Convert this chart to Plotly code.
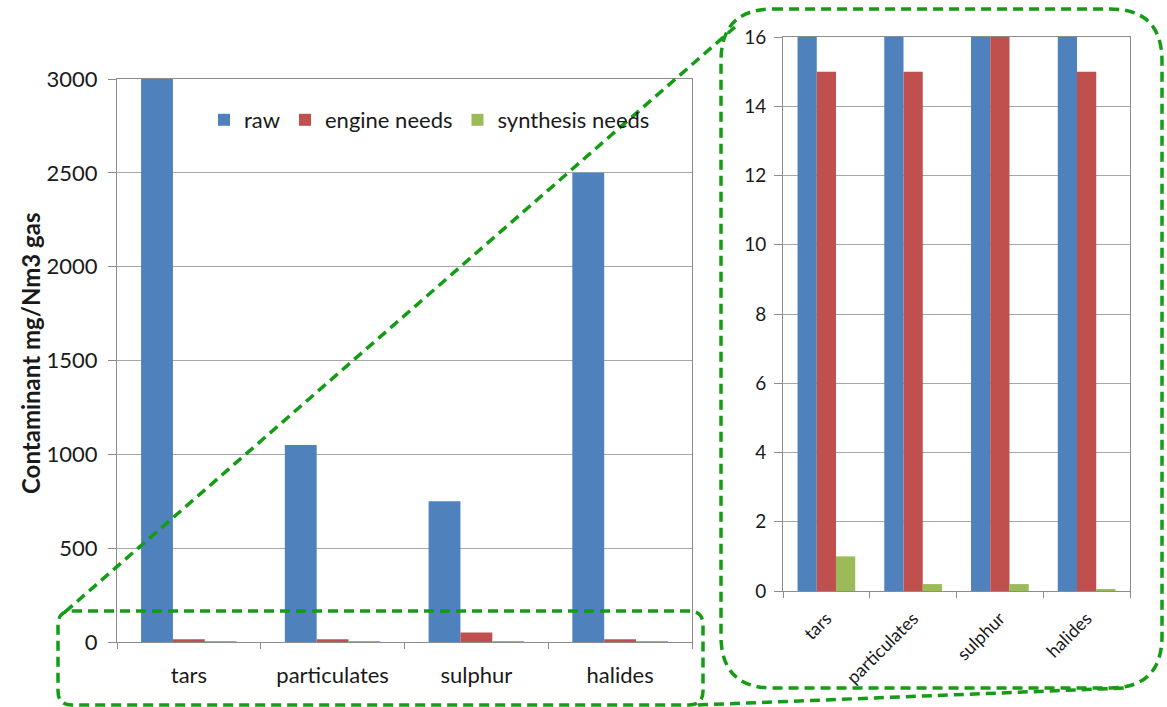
import plotly.graph_objects as go

categories = ["tars", "particulates", "sulphur", "halides"]
raw = [3000, 1050, 750, 2500]
engine_needs = [15, 15, 50, 15]
synthesis_needs = [1, 0.2, 0.2, 0.05]

series_names = ["raw", "engine needs", "synthesis needs"]
series_values = [raw, engine_needs, synthesis_needs]
series_colors = ["#4F81BD", "#C0504D", "#9BBB59"]

W, H = 1167, 707
FONT = "Lato"
GRID = "#a6a6a6"
AXIS = "#8c8c8c"
GREEN = "#149c14"

def px(x):
    return x / W

def py(y):
    return 1 - y / H

fig = go.Figure()
for name, vals, col in zip(series_names, series_values, series_colors):
    fig.add_trace(go.Bar(x=categories, y=vals, name=name, marker=dict(color=col, line=dict(width=0)),
                         xaxis="x", yaxis="y", showlegend=True))
for name, vals, col in zip(series_names, series_values, series_colors):
    fig.add_trace(go.Bar(x=categories, y=vals, name=name, marker=dict(color=col, line=dict(width=0)),
                         xaxis="x2", yaxis="y2", showlegend=False))

axis_common = dict(showline=True, linecolor=AXIS, linewidth=1, mirror=True, automargin=False,
                   zeroline=False)

fig.update_layout(
    width=W, height=H,
    margin=dict(l=0, r=0, t=0, b=0),
    paper_bgcolor="white", plot_bgcolor="white",
    barmode="group", bargap=0.335, bargroupgap=0,
    font=dict(family=FONT, color="#1a1a1a"),
    xaxis=dict(domain=[px(117), px(692)], anchor="y", ticks="outside", tickson="boundaries",
               ticklen=6, tickcolor=AXIS, tickfont=dict(size=22), ticklabelstandoff=14,
               showgrid=False, **axis_common),
    yaxis=dict(domain=[py(642), py(79)], anchor="x", range=[0, 3000], dtick=500,
               ticks="outside", ticklen=8, tickcolor=AXIS, tickfont=dict(size=22),
               ticklabelstandoff=6,
               showgrid=True, gridcolor=GRID, gridwidth=1, **axis_common),
    xaxis2=dict(domain=[px(783), px(1130)], anchor="y2", ticks="outside", tickson="boundaries",
                ticklen=6, tickcolor=AXIS, tickfont=dict(size=18), tickangle=-45,
                ticklabelstandoff=9,
                showgrid=False, **axis_common),
    yaxis2=dict(domain=[py(591), py(37)], anchor="x2", range=[0, 16], dtick=2,
                ticks="outside", ticklen=8, tickcolor=AXIS, tickfont=dict(size=19),
                ticklabelstandoff=4,
                showgrid=True, gridcolor=GRID, gridwidth=1, **axis_common),
    legend=dict(orientation="h", x=px(204), y=py(120), xanchor="left", yanchor="middle",
                font=dict(size=22), bgcolor="rgba(0,0,0,0)", traceorder="normal"),
)

fig.add_annotation(text="<b>Contaminant mg/Nm3 gas</b>", textangle=-90, x=px(30), y=py(354),
                   xref="paper", yref="paper", xanchor="center", yanchor="middle",
                   showarrow=False, font=dict(size=24, family=FONT))

def rounded_rect(x0, y0, x1, y1, r):
    pts = [
        f"M {px(x0 + r)},{py(y0)}",
        f"L {px(x1 - r)},{py(y0)}",
        f"Q {px(x1)},{py(y0)} {px(x1)},{py(y0 + r)}",
        f"L {px(x1)},{py(y1 - r)}",
        f"Q {px(x1)},{py(y1)} {px(x1 - r)},{py(y1)}",
        f"L {px(x0 + r)},{py(y1)}",
        f"Q {px(x0)},{py(y1)} {px(x0)},{py(y1 - r)}",
        f"L {px(x0)},{py(y0 + r)}",
        f"Q {px(x0)},{py(y0)} {px(x0 + r)},{py(y0)}",
        "Z",
    ]
    return " ".join(pts)

dash_line = dict(color=GREEN, width=3.5, dash="10px,6px")
fig.add_shape(type="path", path=rounded_rect(58, 611, 703, 705, 14), xref="paper", yref="paper",
              line=dash_line, layer="above")
fig.add_shape(type="path", path=rounded_rect(721, 9, 1162, 688, 52), xref="paper", yref="paper",
              line=dash_line, layer="above")
fig.add_shape(type="line", x0=px(65), y0=py(612), x1=px(735), y1=py(27), xref="paper", yref="paper",
              line=dash_line, layer="above")
fig.add_shape(type="line", x0=px(698), y0=py(705), x1=px(1125), y1=py(688), xref="paper", yref="paper",
              line=dash_line, layer="above")

fig.write_html("out.html", config={"displayModeBar": False},
               post_script="document.body.style.margin='0';document.body.style.overflow='hidden';")
